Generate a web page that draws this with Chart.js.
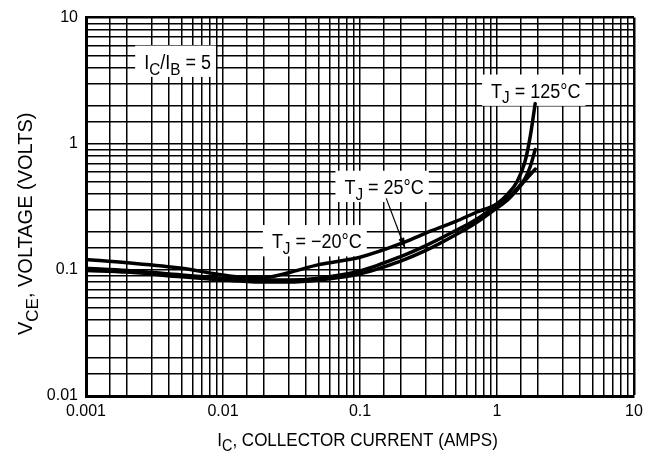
<!DOCTYPE html>
<html>
<head>
<meta charset="utf-8">
<script src="https://cdn.jsdelivr.net/npm/chart.js@4/dist/chart.umd.min.js"></script>
<style>
  html, body { margin: 0; padding: 0; background: #fff; }
  #wrap { width: 653px; height: 461px; }
</style>
</head>
<body>
<div id="wrap"><canvas id="c" width="653" height="461"></canvas></div>
<script>
// Collector current (A) at which each saturation-voltage curve is sampled
const collectorCurrent = [0.001, 0.002, 0.005, 0.01, 0.015, 0.02, 0.03, 0.05, 0.1, 0.2, 0.3, 0.5, 0.7, 1.0, 1.2, 1.4, 1.6, 1.75, 1.9];

// VCE(sat) in volts, IC/IB = 5
const vceHot  = [0.121, 0.114, 0.103, 0.091, 0.087, 0.087, 0.095, 0.110, 0.126, 0.162, 0.195, 0.242, 0.285, 0.335, 0.40, 0.50, 0.72, 1.15, 2.08];
const vceRoom = [0.103, 0.099, 0.091, 0.086, 0.084, 0.083, 0.083, 0.086, 0.098, 0.128, 0.155, 0.205, 0.250, 0.325, 0.37, 0.44, 0.53, 0.66, 0.90];
const vceCold = [0.099, 0.096, 0.088, 0.083, 0.081, 0.080, 0.080, 0.083, 0.093, 0.118, 0.142, 0.190, 0.235, 0.310, 0.36, 0.43, 0.51, 0.57, 0.63];

// Axis tick labels (one per decade)
const xTickLabels = ['0.001', '0.01', '0.1', '1', '10'];
const yTickLabels = ['0.01', '0.1', '1', '10'];

// Log-paper rulings inside each decade
const rulingSteps = [1, 1.5, 2, 3, 4, 5, 6, 7, 8, 9];

const FONT = '"Liberation Sans", Arial, Helvetica, sans-serif';

function rulings(minExp, maxExp) {
  const out = [];
  for (let e = minExp; e < maxExp; e++) {
    for (const s of rulingSteps) out.push(Number((s * Math.pow(10, e)).toPrecision(4)));
  }
  out.push(Math.pow(10, maxExp));
  return out;
}
function isDecade(v) {
  const e = Math.log10(v);
  return Math.abs(e - Math.round(e)) < 1e-9;
}
function decadeLabel(list, v) {
  const hit = list.find(s => Math.abs(Number(s) - v) <= v * 1e-6);
  return hit === undefined ? '' : hit;
}
function series(values) {
  return collectorCurrent.map((x, i) => ({ x: x, y: values[i] }));
}

// Text pieces with subscripts
const S = (t) => ({ t: t, sub: true });
const notes = [
  { parts: [{t: 'I'}, S('C'), {t: '/I'}, S('B'), {t: ' = 5'}], x: 0.00466, y: 3.92 },
  { parts: [{t: 'T'}, S('J'), {t: ' = 125°C'}], x: 1.918, y: 2.31 },
  { parts: [{t: 'T'}, S('J'), {t: ' = 25°C'}], x: 0.150, y: 0.399 },
  { parts: [{t: 'T'}, S('J'), {t: ' = \u221220°C'}], x: 0.0484, y: 0.148 }
];
const leader = { from: { x: 0.1554, y: 0.369 }, to: { x: 0.2139, y: 0.1471 } };
const xTitle = [{t: 'I'}, S('C'), {t: ', COLLECTOR CURRENT (AMPS)'}];
const yTitle = [{t: 'V'}, S('CE'), {t: ', VOLTAGE (VOLTS)'}];

const noteStyle = { size: 20, subScale: 0.85, subDrop: 0.28, squeeze: 0.9 };

function richWidth(ctx, parts, o) {
  let w = 0;
  for (const p of parts) {
    ctx.font = (p.sub ? o.size * o.subScale : o.size) + 'px ' + FONT;
    w += ctx.measureText(p.t).width;
  }
  return w;
}
function drawRich(ctx, parts, cx, baseline, o, rotation) {
  ctx.save();
  ctx.translate(cx, baseline);
  if (rotation) ctx.rotate(rotation);
  ctx.scale(o.squeeze, 1);
  const w = richWidth(ctx, parts, o);
  let x = -w / 2;
  ctx.fillStyle = '#000';
  ctx.textAlign = 'left';
  ctx.textBaseline = 'alphabetic';
  for (const p of parts) {
    const size = p.sub ? o.size * o.subScale : o.size;
    ctx.font = size + 'px ' + FONT;
    ctx.fillText(p.t, x, p.sub ? o.size * o.subDrop : 0);
    x += ctx.measureText(p.t).width;
  }
  ctx.restore();
}

const annotations = {
  id: 'annotations',
  beforeDatasetsDraw(chart) {
    const { ctx, scales: { x, y } } = chart;
    ctx.save();
    ctx.fillStyle = '#fff';
    for (const n of notes) {
      const cx = x.getPixelForValue(n.x);
      const by = y.getPixelForValue(n.y);
      const w = richWidth(ctx, n.parts, noteStyle) * noteStyle.squeeze;
      const cap = noteStyle.size * 0.716;
      ctx.fillRect(cx - w / 2 - 9, by - cap - 9, w + 14, cap + 17);
    }
    ctx.restore();
  },
  afterDatasetsDraw(chart) {
    const { ctx, chartArea, scales: { x, y } } = chart;
    for (const n of notes) {
      drawRich(ctx, n.parts, x.getPixelForValue(n.x), y.getPixelForValue(n.y), noteStyle);
    }
    // leader line with arrowhead for the 25°C curve
    const x0 = x.getPixelForValue(leader.from.x), y0 = y.getPixelForValue(leader.from.y);
    const x1 = x.getPixelForValue(leader.to.x), y1 = y.getPixelForValue(leader.to.y);
    const ang = Math.atan2(y1 - y0, x1 - x0);
    ctx.save();
    ctx.strokeStyle = '#000';
    ctx.fillStyle = '#000';
    ctx.lineWidth = 1.2;
    ctx.beginPath();
    ctx.moveTo(x0, y0);
    ctx.lineTo(x1, y1);
    ctx.stroke();
    ctx.beginPath();
    ctx.moveTo(x1, y1);
    ctx.lineTo(x1 - 11 * Math.cos(ang) + 3 * Math.sin(ang), y1 - 11 * Math.sin(ang) - 3 * Math.cos(ang));
    ctx.lineTo(x1 - 11 * Math.cos(ang) - 3 * Math.sin(ang), y1 - 11 * Math.sin(ang) + 3 * Math.cos(ang));
    ctx.closePath();
    ctx.fill();
    ctx.restore();

    // axis titles
    const midX = (chartArea.left + chartArea.right) / 2;
    drawRich(ctx, xTitle, midX - 2.5, chartArea.bottom + 50,
      { size: 18.5, subScale: 0.85, subDrop: 0.28, squeeze: 0.92 });
    const midY = (chartArea.top + chartArea.bottom) / 2;
    drawRich(ctx, yTitle, 32, midY + 17,
      { size: 20, subScale: 0.85, subDrop: 0.28, squeeze: 1 }, -Math.PI / 2);
  }
};

const curveStyle = {
  borderColor: '#000',
  borderWidth: 3.5,
  pointRadius: 0,
  fill: false,
  cubicInterpolationMode: 'monotone',
  borderCapStyle: 'round',
  borderJoinStyle: 'round'
};

new Chart(document.getElementById('c'), {
  type: 'line',
  data: {
    datasets: [
      Object.assign({ label: 'TJ = 125°C', data: series(vceHot) }, curveStyle),
      Object.assign({ label: 'TJ = 25°C', data: series(vceRoom) }, curveStyle),
      Object.assign({ label: 'TJ = -20°C', data: series(vceCold) }, curveStyle)
    ]
  },
  options: {
    responsive: false,
    animation: false,
    devicePixelRatio: 1,
    layout: { padding: { left: 0, right: 19, top: 13, bottom: 0 } },
    plugins: { legend: { display: false }, tooltip: { enabled: false } },
    scales: {
      x: {
        type: 'logarithmic',
        min: 0.001,
        max: 10,
        afterBuildTicks: (s) => { s.ticks = rulings(-3, 1).map(v => ({ value: v })); },
        afterFit: (s) => { s.height = 65; },
        ticks: {
          autoSkip: false,
          maxRotation: 0,
          padding: 6,
          color: '#000',
          font: { family: FONT, size: 16 },
          callback: (v) => decadeLabel(xTickLabels, v)
        },
        grid: {
          color: '#000',
          drawTicks: false,
          lineWidth: (c) => (c.tick && c.tick.value >= 10 ? 2.5 : 1.5)
        },
        border: { display: true, color: '#000', width: 3 }
      },
      y: {
        type: 'logarithmic',
        min: 0.01,
        max: 10,
        afterBuildTicks: (s) => { s.ticks = rulings(-2, 1).map(v => ({ value: v })); },
        afterFit: (s) => { s.width = 86; },
        ticks: {
          autoSkip: false,
          padding: 8,
          color: '#000',
          font: { family: FONT, size: 16 },
          callback: (v) => decadeLabel(yTickLabels, v)
        },
        grid: {
          color: '#000',
          drawTicks: false,
          lineWidth: (c) => (c.tick && c.tick.value >= 10 ? 2.5 : 1.5)
        },
        border: { display: true, color: '#000', width: 3 }
      }
    }
  },
  plugins: [annotations]
});
</script>
</body>
</html>
